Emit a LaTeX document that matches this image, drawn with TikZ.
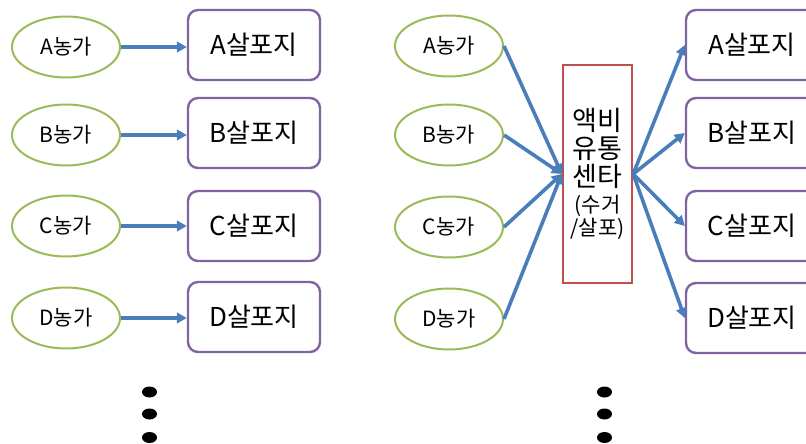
\documentclass[tikz,border=0pt]{standalone}
\usepackage{fontspec}
\setmainfont{Noto Sans CJK KR}
\usetikzlibrary{arrows.meta,shapes.geometric}
\definecolor{farmgreen}{HTML}{9BBB59}
\definecolor{boxpurple}{HTML}{8064A2}
\definecolor{centerred}{HTML}{C0504D}
\definecolor{arrowblue}{HTML}{4A7EBB}
\newcommand{\bigtxt}{\fontsize{27}{28}\selectfont}
\newcommand{\smalltxt}{\fontsize{21}{23}\selectfont}
\tikzset{
  farm/.style={ellipse, draw=farmgreen, line width=2pt, minimum width=108pt, minimum height=61pt, inner sep=0pt, font=\fontsize{21}{24}\selectfont},
  spread/.style={rectangle, rounded corners=10pt, draw=boxpurple, line width=2.4pt, minimum width=132pt, minimum height=70pt, inner sep=0pt, font=\fontsize{26}{30}\selectfont},
  hub/.style={rectangle, draw=centerred, line width=2.4pt, minimum width=69pt, minimum height=218pt, inner sep=0pt, align=center, font=\bigtxt},
  flow/.style={draw=arrowblue, line width=3.6pt, -{Triangle[length=10pt,width=10.5pt]}},
  dot/.style={fill=black}
}
\begin{document}
\begin{tikzpicture}[x=1pt,y=-1pt]
\useasboundingbox (0,0) rectangle (806,444);
\clip (0,0) rectangle (806,444);
% left part
\node[farm] (la) at (66,47) {A농가};
\node[farm] (lb) at (66,135) {B농가};
\node[farm] (lc) at (66,226) {C농가};
\node[farm] (ld) at (66,318) {D농가};
\node[spread] (pa) at (254,45) {A살포지};
\node[spread] (pb) at (254,133) {B살포지};
\node[spread] (pc) at (254,226) {C살포지};
\node[spread] (pd) at (254,317) {D살포지};
\draw[flow] (la.east) -- (la.east -| pa.west);
\draw[flow] (lb.east) -- (lb.east -| pb.west);
\draw[flow] (lc.east) -- (lc.east -| pc.west);
\draw[flow] (ld.east) -- (ld.east -| pd.west);
\fill[dot] (149.5,392) ellipse (7.5 and 5.5);
\fill[dot] (149.5,414) ellipse (7.5 and 5.5);
\fill[dot] (149.5,437.5) ellipse (7.5 and 5.5);
% right part
\node[farm] (ra) at (449,46) {A농가};
\node[farm] (rb) at (449,135) {B농가};
\node[farm] (rc) at (449,227) {C농가};
\node[farm] (rd) at (449,319) {D농가};
\node[hub] (hc) at (597.5,174) {액비\\유통\\센타\\[-2pt]{\smalltxt (수거}\\[-5pt]{\smalltxt /살포)}};
\node[spread] (qa) at (752,45) {A살포지};
\node[spread] (qb) at (752,133) {B살포지};
\node[spread] (qc) at (752,226) {C살포지};
\node[spread] (qd) at (752,318) {D살포지};
\draw[flow] (ra.east) -- (hc.west);
\draw[flow] (rb.east) -- (hc.west);
\draw[flow] (rc.east) -- (hc.west);
\draw[flow] (rd.east) -- (hc.west);
\draw[flow] (hc.east) -- (qa.west);
\draw[flow] (hc.east) -- (qb.west);
\draw[flow] (hc.east) -- (qc.west);
\draw[flow] (hc.east) -- (qd.west);
\fill[dot] (604.5,392) ellipse (7.5 and 5.5);
\fill[dot] (604.5,414) ellipse (7.5 and 5.5);
\fill[dot] (604.5,437.5) ellipse (7.5 and 5.5);
\end{tikzpicture}
\end{document}
